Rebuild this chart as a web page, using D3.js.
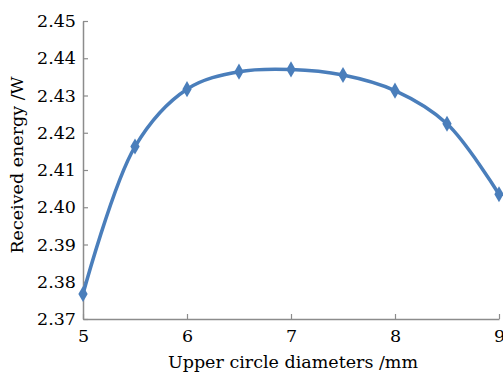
<!DOCTYPE html>
<html>
<head>
<meta charset="utf-8">
<script src="https://cdn.jsdelivr.net/npm/d3@7"></script>
<style>
  body { margin: 0; background: #fff; }
  text { font-family: "DejaVu Serif", "Liberation Serif", serif; fill: #000; }
</style>
</head>
<body>
<script>
const diameters = [5, 5.5, 6, 6.5, 7, 7.5, 8, 8.5, 9];
const energy = [2.3767, 2.4163, 2.4317, 2.4364, 2.4370, 2.4355, 2.4313, 2.4224, 2.4035];
const xTicks = [5, 6, 7, 8, 9];
const yTicks = [2.37, 2.38, 2.39, 2.40, 2.41, 2.42, 2.43, 2.44, 2.45];

const width = 503, height = 373;
const margin = { top: 21, right: 4, bottom: 54, left: 83 };

const svg = d3.select("body").append("svg")
    .attr("width", width)
    .attr("height", height);

const x = d3.scaleLinear().domain([5, 9]).range([margin.left, width - margin.right]);
const y = d3.scaleLinear().domain([2.37, 2.45]).range([height - margin.bottom, margin.top]);

const axisColor = "#8c8c8c";

// x axis, ticks pointing up into the plot
const gx = svg.append("g")
    .attr("transform", `translate(0,${y(2.37)})`)
    .call(d3.axisBottom(x).tickValues(xTicks).tickFormat(d3.format("d"))
        .tickSizeInner(-5).tickSizeOuter(0).tickPadding(11));
gx.select(".domain").attr("stroke", axisColor).attr("stroke-width", 1.5);
gx.selectAll(".tick line").attr("stroke", axisColor).attr("stroke-width", 1.2);
gx.selectAll(".tick text").attr("font-size", 17.5).attr("font-family", null).attr("fill", "#000");

// y axis, ticks pointing right
const gy = svg.append("g")
    .attr("transform", `translate(${x(5)},0)`)
    .call(d3.axisLeft(y).tickValues(yTicks).tickFormat(d3.format(".2f"))
        .tickSizeInner(-5).tickSizeOuter(0).tickPadding(7));
gy.select(".domain").attr("stroke", axisColor).attr("stroke-width", 1.5);
gy.selectAll(".tick line").attr("stroke", axisColor).attr("stroke-width", 1.2);
gy.selectAll(".tick text").attr("font-size", 17.5).attr("font-family", null).attr("fill", "#000");

// axis titles
svg.append("text")
    .attr("x", 293).attr("y", 368)
    .attr("text-anchor", "middle")
    .attr("font-size", 17.5)
    .text("Upper circle diameters /mm");

svg.append("text")
    .attr("transform", "translate(23,165) rotate(-90)")
    .attr("text-anchor", "middle")
    .attr("font-size", 17.5)
    .text("Received energy /W");

const data = diameters.map((d, i) => ({ d, e: energy[i] }));
const blue = "#4a7ebb";

const line = d3.line()
    .x(p => x(p.d))
    .y(p => y(p.e))
    .curve(d3.curveCatmullRom.alpha(0.5));

svg.append("path")
    .datum(data)
    .attr("fill", "none")
    .attr("stroke", blue)
    .attr("stroke-width", 3.5)
    .attr("d", line);

svg.append("g")
    .selectAll("path")
    .data(data)
    .join("path")
    .attr("transform", p => `translate(${x(p.d)},${y(p.e)})`)
    .attr("d", d3.symbol(d3.symbolDiamond, 75))
    .attr("fill", blue);
</script>
</body>
</html>
